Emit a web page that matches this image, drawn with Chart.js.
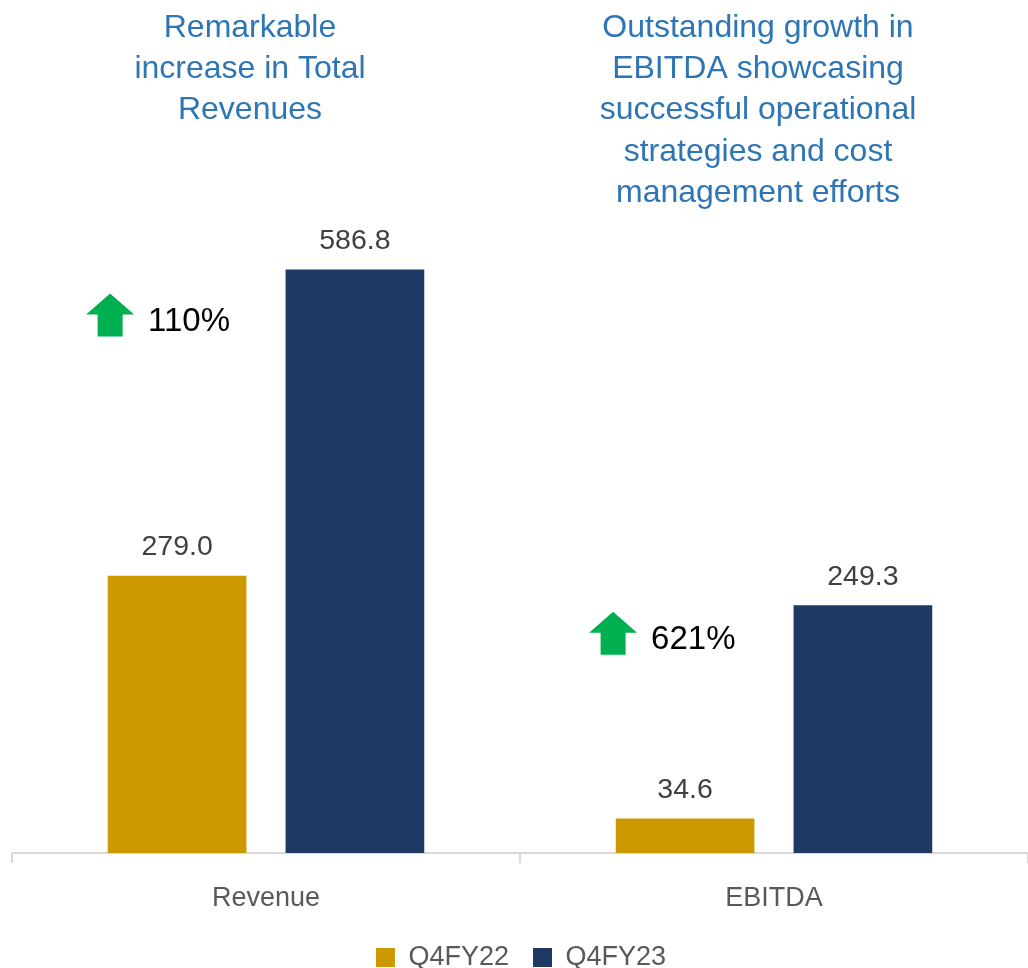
<!DOCTYPE html>
<html>
<head>
<meta charset="utf-8">
<script src="https://cdn.jsdelivr.net/npm/chart.js@4.4.1/dist/chart.umd.min.js"></script>
<style>
  html, body { margin: 0; padding: 0; background: #fff; }
  #wrap { width: 1028px; height: 968px; position: relative; }
</style>
</head>
<body>
<div id="wrap"><canvas id="kpiChart"></canvas></div>
<script>
const categories = ['Revenue', 'EBITDA'];
const q4fy22 = [279.0, 34.6];
const q4fy23 = [586.8, 249.3];
const seriesNames = ['Q4FY22', 'Q4FY23'];
const headlines = [
    ['Remarkable', 'increase in Total', 'Revenues'],
    ['Outstanding growth in', 'EBITDA showcasing', 'successful operational', 'strategies and cost', 'management efforts']
];
// where the growth badge sits: y in value units, x shift from the first bar
const growthLevel = [534, 214];
const growthShift = [-67, -72];

const FONT = '"Liberation Sans", Arial, sans-serif';

function drawArrow(ctx, cx, cy) {
    ctx.save();
    ctx.fillStyle = '#00B050';
    ctx.beginPath();
    ctx.moveTo(cx, cy - 21.5);
    ctx.lineTo(cx + 24, cy - 0.5);
    ctx.lineTo(cx + 12.5, cy - 0.5);
    ctx.lineTo(cx + 12.5, cy + 21.5);
    ctx.lineTo(cx - 12.5, cy + 21.5);
    ctx.lineTo(cx - 12.5, cy - 0.5);
    ctx.lineTo(cx - 24, cy - 0.5);
    ctx.closePath();
    ctx.fill();
    ctx.restore();
}

const extrasPlugin = {
    id: 'extras',
    afterDatasetsDraw(chart) {
        const ctx = chart.ctx;
        const x = chart.scales.x, y = chart.scales.y;

        // value labels above bars
        ctx.save();
        ctx.font = '28.5px ' + FONT;
        ctx.fillStyle = '#404040';
        ctx.textAlign = 'center';
        ctx.textBaseline = 'middle';
        chart.data.datasets.forEach((ds, di) => {
            chart.getDatasetMeta(di).data.forEach((bar, i) => {
                ctx.fillText(ds.data[i].toFixed(1), bar.x, bar.y - 28);
            });
        });
        ctx.restore();

        // headlines above each group
        ctx.save();
        ctx.font = '32px ' + FONT;
        ctx.fillStyle = '#2E75B6';
        ctx.textAlign = 'center';
        ctx.textBaseline = 'middle';
        headlines.forEach((lines, i) => {
            const cx = x.getPixelForValue(i) - 16;
            lines.forEach((t, k) => ctx.fillText(t, cx, 28 + k * 41.3));
        });
        ctx.restore();

        // growth badges
        const meta0 = chart.getDatasetMeta(0);
        categories.forEach((c, i) => {
            const growth = Math.round((q4fy23[i] / q4fy22[i] - 1) * 100);
            const ax = meta0.data[i].x + growthShift[i];
            const ty = y.getPixelForValue(growthLevel[i]);
            drawArrow(ctx, ax, ty - 7);
            ctx.save();
            ctx.font = '33px ' + FONT;
            ctx.fillStyle = '#000';
            ctx.textAlign = 'left';
            ctx.textBaseline = 'middle';
            ctx.fillText(growth + '%', ax + 38, ty);
            ctx.restore();
        });
    }
};

new Chart(document.getElementById('kpiChart'), {
    type: 'bar',
    data: {
        labels: categories,
        datasets: [
            { label: seriesNames[0], data: q4fy22, backgroundColor: '#CC9900', borderWidth: 0 },
            { label: seriesNames[1], data: q4fy23, backgroundColor: '#203864', borderWidth: 0 }
        ]
    },
    options: {
        responsive: true,
        maintainAspectRatio: false,
        animation: false,
        categoryPercentage: 0.7,
        barPercentage: 0.78,
        layout: { padding: { left: 12, right: -2, top: 0, bottom: 0 } },
        plugins: {
            tooltip: { enabled: false },
            legend: {
                position: 'bottom',
                maxHeight: 48,
                labels: {
                    boxWidth: 19,
                    boxHeight: 19,
                    padding: 24,
                    color: '#595959',
                    font: { family: FONT, size: 27 }
                }
            }
        },
        scales: {
            x: {
                grid: {
                    offset: true,
                    drawOnChartArea: false,
                    tickLength: 10,
                    color: '#D9D9D9',
                    lineWidth: 2
                },
                border: { color: '#D9D9D9', width: 2 },
                ticks: {
                    padding: 19,
                    color: '#595959',
                    font: { family: FONT, size: 27 }
                },
                afterFit(scale) { scale.height = 67; }
            },
            y: {
                display: false,
                min: 0,
                max: 858
            }
        }
    },
    plugins: [extrasPlugin]
});
</script>
</body>
</html>
